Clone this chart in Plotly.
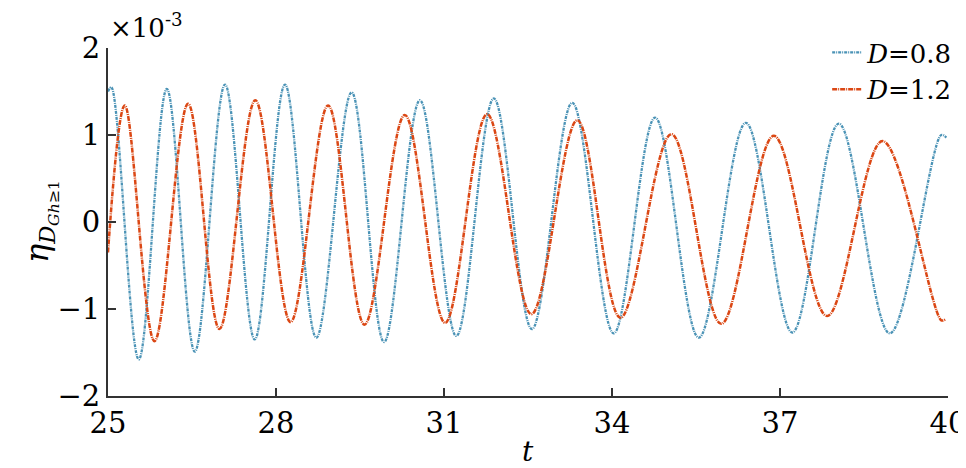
import plotly.graph_objects as go

# D=0.8 (blue): start, extrema and end (units of 1e-3)
t_d08 = [25.00, 25.06, 25.55, 26.05, 26.55, 27.09, 27.62, 28.16, 28.72, 29.35, 29.93, 30.57,
         31.22, 31.89, 32.57, 33.29, 34.03, 34.77, 35.55, 36.39, 37.22, 38.05, 38.96, 39.88, 39.97]
v_d08 = [1.50, 1.55, -1.58, 1.53, -1.49, 1.58, -1.35, 1.58, -1.33, 1.49, -1.38, 1.40,
         -1.31, 1.42, -1.23, 1.37, -1.28, 1.20, -1.33, 1.14, -1.27, 1.13, -1.28, 1.00, 0.97]

# D=1.2 (red)
t_d12 = [25.00, 25.30, 25.83, 26.43, 26.99, 27.63, 28.26, 28.93, 29.58, 30.30, 31.02, 31.77,
         32.56, 33.38, 34.15, 35.06, 35.95, 36.89, 37.84, 38.83, 39.88, 39.95]
v_d12 = [-0.35, 1.34, -1.37, 1.36, -1.23, 1.40, -1.15, 1.34, -1.18, 1.23, -1.16, 1.24,
         -1.06, 1.17, -1.10, 1.01, -1.17, 0.99, -1.08, 0.93, -1.13, -1.12]

x_ticks = [25, 28, 31, 34, 37, 40]
y_ticks = [-2, -1, 0, 1, 2]

FONT = "DejaVu Serif"
BLUE = "#4b93b6"
RED = "#db4714"

fig = go.Figure()
fig.add_trace(go.Scatter(x=t_d08, y=v_d08, mode="lines", name="<i>D</i>=0.8",
                         line=dict(color=BLUE, width=2.3, dash="3px,1px,1px,1px",
                                   shape="spline", smoothing=1.0)))
fig.add_trace(go.Scatter(x=t_d12, y=v_d12, mode="lines", name="<i>D</i>=1.2",
                         line=dict(color=RED, width=2.5, dash="5px,1px,1px,1px",
                                   shape="spline", smoothing=1.0)))

axis_common = dict(showgrid=False, zeroline=False, showline=True, linecolor="#333333",
                   linewidth=2, ticks="inside", ticklen=8, tickwidth=2, tickcolor="#333333",
                   tickfont=dict(family=FONT, size=29, color="black"), mirror=False,
                   automargin=False)

fig.update_layout(
    width=966, height=468,
    margin=dict(l=100, r=26, t=40, b=80, autoexpand=False),
    plot_bgcolor="white", paper_bgcolor="white",
    font=dict(family=FONT, color="black"),
    xaxis=dict(range=[25, 40], tickvals=x_ticks, ticktext=[str(v) for v in x_ticks], **axis_common),
    yaxis=dict(range=[-2, 2], tickvals=y_ticks, **axis_common),
    legend=dict(xref="container", yref="container", x=0.848, y=0.955,
                xanchor="left", yanchor="top", bgcolor="rgba(0,0,0,0)",
                font=dict(family=FONT, size=26, color="black"), itemwidth=30,
                tracegroupgap=0),
    showlegend=True,
)

fig.add_annotation(xref="paper", yref="paper", x=0.0, y=1.0, xanchor="left", yanchor="bottom",
                   xshift=0, yshift=3, showarrow=False,
                   text="×10<sup>-3</sup>", font=dict(family=FONT, size=26, color="black"))
fig.add_annotation(xref="paper", yref="paper", x=0.5, y=0, xanchor="center", yanchor="top",
                   yshift=-37, showarrow=False,
                   text="<i>t</i>", font=dict(family=FONT, size=28, color="black"))
fig.add_annotation(xref="paper", yref="paper", x=0, y=0.5, xanchor="center", yanchor="middle",
                   xshift=-68, showarrow=False, textangle=-90,
                   text="<i>η</i><sub><i>D</i><sub><i>Gh</i>≥1</sub></sub>",
                   font=dict(family=FONT, size=32, color="black"))

fig.write_html("out.html")
